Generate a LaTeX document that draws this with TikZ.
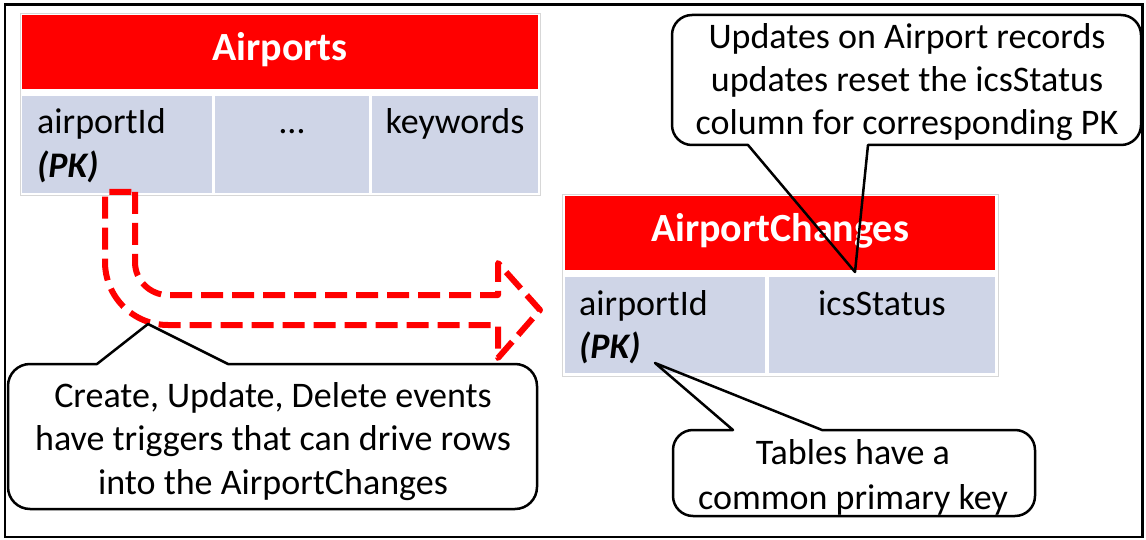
\documentclass[tikz,border=0pt]{standalone}
\usepackage{fontspec}
\setmainfont{Carlito}
\definecolor{tabred}{RGB}{255,0,0}
\definecolor{tabblue}{RGB}{207,213,231}
\definecolor{framegray}{RGB}{215,215,215}
\begin{document}
\begin{tikzpicture}[x=1pt,y=-1pt,
  frame/.style={draw=framegray, line width=0.8pt},
  hdr/.style={fill=tabred, anchor=north west, inner sep=0},
  cell/.style={fill=tabblue, anchor=north west, inner sep=0},
  title/.style={text=white, font=\fontsize{40}{48}\selectfont\bfseries, anchor=base, inner sep=0},
  celltext/.style={font=\fontsize{36}{44}\selectfont, inner sep=0, anchor=base},
  pk/.style={font=\fontsize{36}{44}\selectfont\bfseries\itshape, inner sep=0, anchor=base west},
  note/.style={font=\fontsize{36}{43.3}\selectfont, align=center, inner sep=0, anchor=base},
  bubble/.style={draw=black, line width=2.5pt, line join=round},
  flow/.style={draw=tabred, line width=6pt, dash pattern=on 22pt off 9pt, line join=round}
]
\useasboundingbox (0,0) rectangle (1146,540);
\draw[line width=2.5pt] (5,4.5) rectangle (1142.5,537);

% Airports table
\draw[frame] (20,13) rectangle (540,195);
\node[hdr, minimum width=516pt, minimum height=74pt] (aph) at (22,15) {};
\node[cell, minimum width=190pt, minimum height=97pt] (apc1) at (22,96) {};
\node[cell, minimum width=154pt, minimum height=97pt] (apc2) at (215,96) {};
\node[cell, minimum width=166pt, minimum height=97pt] (apc3) at (372,96) {};
\node[title] (aptitle) at (280,61) {Airports};
\node[celltext, anchor=base west] (apid) at (37,134) {airportId};
\node[pk] (appk) at (37,178) {(PK)};
\node[celltext] (apdots) at (292,134) {…};
\node[celltext] (apkw) at (455,134) {keywords};

% AirportChanges table
\draw[frame] (562,194) rectangle (998,376);
\node[hdr, minimum width=430pt, minimum height=74pt] (ach) at (565,196) {};
\node[cell, minimum width=200pt, minimum height=96pt] (acc1) at (565,277) {};
\node[cell, minimum width=226pt, minimum height=96pt] (acc2) at (769,277) {};
\node[title] (actitle) at (780,242) {AirportChanges};
\node[celltext, anchor=base west] (acid) at (579,315) {airportId};
\node[pk] (acpk) at (579,358) {(PK)};
\node[celltext] (acstatus) at (882,315) {icsStatus};

% dashed bent arrow
\draw[flow] (135,192) -- (135,262) arc[start angle=180,end angle=90,radius=33]
  -- (498,295) -- (498,263) -- (540,310) -- (498,358) -- (498,325)
  -- (168,325) arc[start angle=90,end angle=180,radius=63] -- (105,192) -- cycle;

% callouts
\coordinate (tipA) at (855,272);
\coordinate (tipB) at (148,324);
\coordinate (tipC) at (655,363);

\draw[bubble] (692,15) -- (1121,15) arc[start angle=270,end angle=360,radius=20]
  -- (1141,125) arc[start angle=0,end angle=90,radius=20]
  -- (868,145) -- (tipA) -- (748,145)
  -- (692,145) arc[start angle=90,end angle=180,radius=20]
  -- (672,35) arc[start angle=180,end angle=270,radius=20] -- cycle;
\node[note] (noteA) at (907,135) {Updates on Airport records\\updates reset the icsStatus\\column for corresponding PK};

\draw[bubble] (30,364) -- (97,364) -- (tipB) -- (228,364)
  -- (515,364) arc[start angle=270,end angle=360,radius=22]
  -- (537,487) arc[start angle=0,end angle=90,radius=22]
  -- (30,509) arc[start angle=90,end angle=180,radius=22]
  -- (8,386) arc[start angle=180,end angle=270,radius=22] -- cycle;
\node[note] (noteB) at (273,494) {Create, Update, Delete events\\have triggers that can drive rows\\into the AirportChanges};

\draw[bubble] (693,430) -- (733,430) -- (tipC) -- (822,430)
  -- (1015,430) arc[start angle=270,end angle=360,radius=20]
  -- (1035,496) arc[start angle=0,end angle=90,radius=20]
  -- (693,516) arc[start angle=90,end angle=180,radius=20]
  -- (673,450) arc[start angle=180,end angle=270,radius=20] -- cycle;
\node[note, font=\fontsize{36}{44.5}\selectfont] (noteC) at (853,509) {Tables have a\\common primary key};
\end{tikzpicture}
\end{document}
